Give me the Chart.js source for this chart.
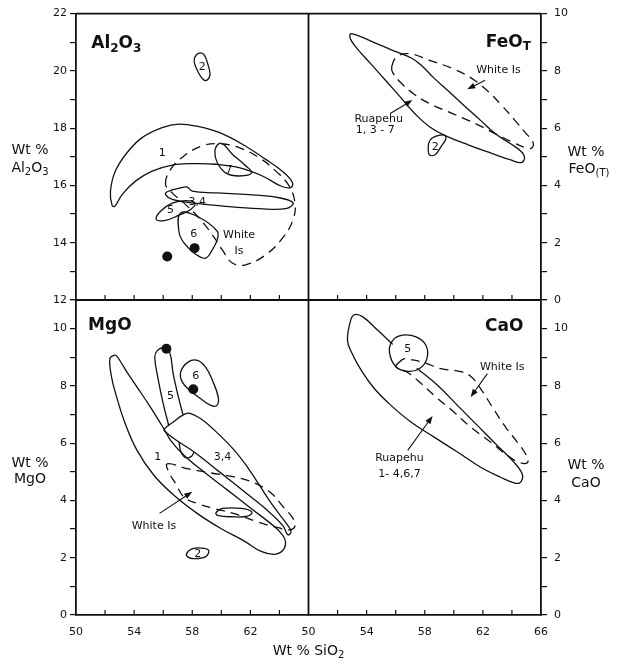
<!DOCTYPE html>
<html>
<head>
<meta charset="utf-8">
<script src="https://cdn.jsdelivr.net/npm/chart.js@4.4.1/dist/chart.umd.min.js"></script>
<style>
  html, body { margin: 0; padding: 0; background: #fff; }
  #wrap { width: 624px; height: 664px; }
</style>
</head>
<body>
<div id="wrap"><canvas id="harker" width="624" height="664"></canvas></div>
<script>
//----------------------------data (SiO2 wt %, oxide wt %)---------------------------

// Al2O3 panel
const alField1 = [[52.48,15.31],[52.37,15.80],[52.71,16.50],[53.52,17.15],[54.55,17.67],[55.93,18.02],[57.08,18.14],[58.46,18.05],[59.84,17.85],[61.45,17.44],[63.06,16.91],[64.32,16.44],[64.90,16.09],[64.78,15.92],[64.09,15.98],[62.83,16.33],[61.22,16.62],[59.61,16.74],[58.00,16.76],[56.62,16.71],[55.24,16.50],[54.09,16.15],[53.17,15.68],[52.67,15.27]];
const alField2 = [[58.18,20.48],[58.46,20.62],[58.80,20.57],[59.03,20.30],[59.22,19.89],[59.03,19.68],[58.74,19.71],[58.41,19.95],[58.14,20.30]];
const alField7 = [[59.84,17.46],[59.56,17.20],[59.72,16.80],[60.30,16.44],[61.22,16.33],[62.09,16.44],[61.56,16.74],[60.76,17.09],[60.18,17.42]];
const alField34 = [[56.28,15.78],[57.26,15.92],[57.66,15.94],[58.00,15.80],[59.61,15.74],[61.91,15.68],[63.98,15.57],[64.94,15.39],[64.44,15.19],[62.60,15.19],[60.30,15.27],[58.00,15.39],[56.62,15.51],[56.16,15.68]];
const alField5 = [[55.52,14.81],[55.82,15.10],[56.62,15.38],[57.54,15.47],[58.18,15.38],[57.89,15.16],[57.08,14.96],[56.16,14.78]];
const alField6 = [[57.20,15.04],[58.46,14.89],[59.72,14.40],[59.72,14.11],[59.38,13.75],[58.92,13.46],[58.23,13.60],[57.43,13.99],[57.08,14.40]];
const alWhiteIs = [[56.16,16.04],[56.51,16.56],[57.43,17.03],[58.69,17.38],[59.84,17.46],[61.22,17.32],[62.60,16.97],[63.75,16.50],[64.67,15.98],[65.08,15.33],[64.90,14.75],[64.21,14.16],[63.06,13.58],[61.68,13.23],[60.76,13.29],[60.07,13.75],[59.38,14.28],[58.46,14.87],[57.54,15.33],[56.62,15.74]];
const alDots = [[56.28,13.52],[58.16,13.81]];

// FeO(T) panel
const feRuapehu = [[52.95,9.30],[54.94,8.90],[56.07,8.66],[57.08,8.45],[57.76,8.20],[58.55,7.79],[59.68,7.27],[60.81,6.74],[61.82,6.28],[62.84,5.81],[63.86,5.47],[64.60,5.20],[64.87,4.97],[64.65,4.80],[63.97,4.88],[62.61,5.12],[61.03,5.41],[59.45,5.73],[58.33,6.05],[57.31,6.51],[56.41,7.03],[55.39,7.62],[54.26,8.26],[53.25,8.84],[52.86,9.15]];
const feWhiteIs = [[55.73,8.14],[56.07,8.49],[56.97,8.60],[58.33,8.37],[59.91,8.08],[61.26,7.73],[62.39,7.27],[63.29,6.80],[64.19,6.28],[64.98,5.81],[65.44,5.52],[65.37,5.31],[64.98,5.31],[64.08,5.50],[62.84,5.81],[61.49,6.16],[59.91,6.51],[58.33,6.86],[57.20,7.21],[56.29,7.62],[55.80,7.94]];
const feField2 = [[58.33,5.55],[58.73,5.71],[59.34,5.76],[59.45,5.62],[59.11,5.35],[58.73,5.08],[58.33,5.06],[58.24,5.29]];

// MgO panel
const mgField1 = [[52.63,9.07],[52.33,8.95],[52.45,8.30],[52.80,7.61],[53.39,6.68],[54.20,5.75],[55.36,4.88],[56.74,4.18],[58.36,3.54],[59.97,3.02],[61.59,2.58],[62.74,2.22],[63.66,2.12],[64.24,2.26],[64.42,2.55],[64.20,2.80],[63.67,3.08],[62.05,3.72],[60.43,4.36],[58.82,4.99],[57.43,5.58],[56.51,6.10],[56.05,6.50],[55.12,7.26],[54.20,7.96],[53.51,8.48],[53.05,8.86],[52.80,9.04]];
const mgField34 = [[56.09,6.50],[56.70,6.74],[57.32,6.97],[57.75,7.05],[58.59,6.85],[59.74,6.35],[60.90,5.75],[61.82,5.15],[62.51,4.62],[63.30,4.00],[63.95,3.55],[64.50,3.18],[64.80,2.92],[64.58,2.80],[64.24,3.12],[63.20,3.64],[61.59,4.30],[59.74,5.05],[58.13,5.69],[57.09,6.04],[56.16,6.39]];
const mgField5 = [[56.39,6.60],[56.00,7.38],[55.63,8.30],[55.42,9.00],[55.59,9.23],[56.05,9.33],[56.44,9.18],[56.69,8.42],[57.02,7.67],[57.36,7.00]];
const mgField5Tail = [[57.09,6.04],[57.22,5.70],[57.55,5.49],[57.94,5.54],[58.13,5.69]];
const mgField6 = [[57.20,8.48],[57.71,8.83],[58.36,8.89],[58.93,8.65],[59.39,8.19],[59.79,7.61],[59.70,7.32],[59.28,7.32],[58.59,7.55],[57.85,7.84],[57.32,8.13]];
const mgField7 = [[59.63,3.57],[60.09,3.72],[61.36,3.72],[62.10,3.60],[61.82,3.45],[60.66,3.43],[59.74,3.48]];
const mgField2 = [[57.62,2.15],[57.98,2.31],[58.80,2.33],[59.14,2.24],[58.90,2.03],[58.10,1.97],[57.68,2.03]];
const mgWhiteIs = [[56.28,5.28],[57.66,5.11],[59.28,4.96],[60.90,4.82],[62.28,4.61],[63.44,4.25],[64.30,3.75],[64.90,3.40],[65.07,3.13],[64.79,2.98],[63.90,3.05],[62.50,3.25],[60.90,3.54],[59.51,3.72],[58.36,3.89],[57.43,4.12],[56.86,4.59],[56.39,4.99]];
const mgDots = [[56.22,9.30],[58.07,7.88]];

// CaO panel (Ruapehu outline stops where field 5 covers it)
const caRuapehu = [[57.45,8.62],[58.88,8.02],[60.25,7.32],[61.62,6.62],[62.99,5.92],[64.13,5.34],[64.70,4.93],[64.63,4.66],[64.25,4.60],[63.22,4.81],[61.85,5.16],[60.25,5.69],[58.65,6.21],[57.05,6.74],[55.68,7.32],[54.54,7.90],[53.63,8.54],[52.95,9.18],[52.68,9.60],[52.90,10.29],[53.17,10.49],[53.74,10.41],[54.77,9.94],[55.80,9.45]];
const caField5 = [[55.57,9.18],[55.80,9.59],[56.48,9.77],[57.40,9.71],[58.08,9.42],[58.15,8.95],[57.63,8.60],[56.83,8.51],[56.03,8.66]];
const caWhiteIs = [[56.14,8.78],[56.60,8.95],[57.05,8.92],[57.97,8.81],[59.11,8.60],[60.37,8.51],[61.16,8.34],[61.85,7.90],[62.65,7.26],[63.56,6.56],[64.36,6.04],[64.93,5.63],[65.09,5.34],[64.59,5.31],[63.68,5.57],[62.53,6.04],[61.16,6.56],[60.00,7.09],[58.77,7.61],[57.76,8.08],[56.85,8.46],[56.03,8.66]];

// field labels: panel, SiO2, oxide, text
const fieldLabels = [
  ['al',58.69,20.17,'2'],['al',55.93,17.15,'1'],['al',60.53,16.56,'7'],['al',58.34,15.45,'3,4'],
  ['al',56.51,15.19,'5'],['al',58.11,14.34,'6'],['al',61.22,14.32,'White'],['al',61.22,13.75,'Is'],
  ['fe',63.07,8.05,'White Is'],['fe',54.83,6.34,'Ruapehu'],['fe',54.60,5.97,'1, 3 - 7'],['fe',58.73,5.37,'2'],
  ['mg',55.63,5.55,'1'],['mg',56.51,7.67,'5'],['mg',58.24,8.39,'6'],['mg',60.09,5.54,'3,4'],
  ['mg',55.36,3.14,'White Is'],['mg',58.38,2.15,'2'],
  ['ca',56.83,9.32,'5'],['ca',63.33,8.69,'White Is'],['ca',56.26,5.51,'Ruapehu'],['ca',56.26,4.97,'1- 4,6,7']
];
// arrows: panel, from SiO2, from oxide, to SiO2, to oxide
const arrows = [
  ['fe',62.16,7.67,60.92,7.36],['fe',55.62,6.51,57.15,6.98],
  ['mg',55.75,3.55,58.0,4.3],
  ['ca',62.31,8.43,61.16,7.61],['ca',56.83,5.75,58.54,6.95]
];

const siTicksLabelled = [50, 54, 58, 62, 66];


//----------------------------chart-----------------------------------------------

const PANELS = {al: ['xL','yAl'], fe: ['xR','yFe'], mg: ['xL','yMg'], ca: ['xR','yCa']};
const INK = '#111';
const FONT = 'DejaVu Sans';

function outline(pts, panel, opts) {
  return Object.assign({
    type: 'line',
    data: pts.map(p => ({x: p[0], y: p[1]})),
    xAxisID: PANELS[panel][0], yAxisID: PANELS[panel][1],
    borderColor: INK, borderWidth: 1.3, pointRadius: 0, tension: 0.4, fill: false,
    loop: true
  }, opts || {});
}
const dashed = {borderDash: [9, 6]};
const open = {loop: false};

function dots(pts, panel) {
  return {
    type: 'line', showLine: false,
    data: pts.map(p => ({x: p[0], y: p[1]})),
    xAxisID: PANELS[panel][0], yAxisID: PANELS[panel][1],
    pointRadius: 5, pointBackgroundColor: INK, pointBorderWidth: 0
  };
}

const datasets = [
  dots(alDots, 'al'), dots(mgDots, 'mg'),
  outline(caWhiteIs, 'ca', dashed), outline(caField5, 'ca'), outline(caRuapehu, 'ca', open),
  outline(alWhiteIs, 'al', dashed), outline(alField1, 'al'), outline(alField2, 'al'), outline(alField7, 'al'),
  outline(alField34, 'al'), outline(alField5, 'al'), outline(alField6, 'al'),
  outline(feWhiteIs, 'fe', dashed), outline(feRuapehu, 'fe'), outline(feField2, 'fe'),
  outline(mgWhiteIs, 'mg', dashed), outline(mgField1, 'mg'), outline(mgField34, 'mg'),
  outline(mgField5, 'mg', open), outline(mgField5Tail, 'mg', open), outline(mgField6, 'mg'),
  outline(mgField7, 'mg'), outline(mgField2, 'mg')
];

const tickFont = {family: FONT, size: 11};

function yAxis(pos, min, max, stackWeight, weight, labelMax) {
  return {
    type: 'linear', position: pos, stack: pos, stackWeight: stackWeight, weight: weight,
    min: min, max: max,
    afterFit: s => { s.width = pos === 'left' ? 76 : 83; },
    ticks: {
      stepSize: 1, autoSkip: false, padding: pos === 'left' ? 3 : 7, color: INK, font: tickFont,
      callback: v => (v % 2 === 0 && v <= labelMax) ? v : ''
    },
    grid: {drawOnChartArea: false, drawTicks: true, tickLength: 6, color: INK, lineWidth: 1.2},
    border: {color: INK, width: 1.8}
  };
}

function xAxis(weight, lastLabel) {
  return {
    type: 'linear', position: 'bottom', stack: 'bottom', stackWeight: 1, weight: weight,
    min: 50, max: 66,
    afterFit: s => { s.height = 49; },
    ticks: {
      stepSize: 2, autoSkip: false, maxRotation: 0, minRotation: 0, padding: 11, color: INK, font: tickFont,
      callback: v => (siTicksLabelled.includes(v) && (lastLabel || v < 66)) ? v : ''
    },
    grid: {display: false, drawTicks: false},
    border: {color: INK, width: 1.8}
  };
}

// smooth closed outlines: let the line element wrap round like a radar line
const closeLoops = {
  id: 'closeLoops',
  afterDatasetUpdate(chart, args) {
    const ds = chart.data.datasets[args.index];
    const line = args.meta.dataset;
    if (ds.loop && line) {
      line._loop = true;
      line._fullLoop = true;
      delete line._segments;
      line._path = undefined;
      line._pointsUpdated = false;
    }
  }
};

function drawParts(ctx, parts, x, y, size, weight, align) {
  const big = weight + ' ' + size + 'px "' + FONT + '"';
  const small = weight + ' ' + Math.round(size * 0.7) + 'px "' + FONT + '"';
  let w = 0;
  parts.forEach(p => { ctx.font = p[1] ? small : big; w += ctx.measureText(p[0]).width; });
  let cx = align === 'left' ? x : align === 'right' ? x - w : x - w / 2;
  const base = y + size * 0.36;
  ctx.textAlign = 'left';
  ctx.textBaseline = 'alphabetic';
  parts.forEach(p => {
    ctx.font = p[1] ? small : big;
    ctx.fillText(p[0], cx, p[1] ? base + size * 0.22 : base);
    cx += ctx.measureText(p[0]).width;
  });
}

const decorations = {
  id: 'decorations',
  afterDraw(chart) {
    const ctx = chart.ctx;
    const area = chart.chartArea;
    const s = chart.scales;
    const midY = s.yAl.bottom;
    const midX = s.xL.right;
    ctx.save();
    ctx.strokeStyle = INK;
    ctx.fillStyle = INK;

    // frame: top edge and the two dividers
    ctx.lineWidth = 1.8;
    ctx.beginPath();
    ctx.moveTo(area.left, area.top); ctx.lineTo(area.right, area.top);
    ctx.moveTo(area.left, midY); ctx.lineTo(area.right, midY);
    ctx.moveTo(midX, area.top); ctx.lineTo(midX, area.bottom);
    ctx.stroke();

    // SiO2 ticks point inwards, on the bottom axis and on the middle divider
    ctx.lineWidth = 1.2;
    ctx.beginPath();
    ['xL', 'xR'].forEach(id => {
      s[id].ticks.forEach(t => {
        if (t.value <= 50 || t.value >= 66) return;
        const px = s[id].getPixelForValue(t.value);
        ctx.moveTo(px, area.bottom); ctx.lineTo(px, area.bottom - 5);
        ctx.moveTo(px, midY); ctx.lineTo(px, midY - 5);
      });
    });
    ctx.stroke();

    const P = (panel, x, y) => [s[PANELS[panel][0]].getPixelForValue(x), s[PANELS[panel][1]].getPixelForValue(y)];

    // field labels
    fieldLabels.forEach(l => {
      const [px, py] = P(l[0], l[1], l[2]);
      drawParts(ctx, [[l[3]]], px, py, 11, 'normal', 'center');
    });

    // arrows
    ctx.lineWidth = 1.1;
    arrows.forEach(a => {
      const [x1, y1] = P(a[0], a[1], a[2]);
      const [x2, y2] = P(a[0], a[3], a[4]);
      const ang = Math.atan2(y2 - y1, x2 - x1);
      ctx.beginPath(); ctx.moveTo(x1, y1); ctx.lineTo(x2 - 4 * Math.cos(ang), y2 - 4 * Math.sin(ang)); ctx.stroke();
      ctx.beginPath();
      ctx.moveTo(x2, y2);
      ctx.lineTo(x2 - 8 * Math.cos(ang) + 3 * Math.sin(ang), y2 - 8 * Math.sin(ang) - 3 * Math.cos(ang));
      ctx.lineTo(x2 - 8 * Math.cos(ang) - 3 * Math.sin(ang), y2 - 8 * Math.sin(ang) + 3 * Math.cos(ang));
      ctx.closePath(); ctx.fill();
    });

    // panel titles
    let p = P('al', 51.05, 21.0);
    drawParts(ctx, [['Al'], ['2', 1], ['O'], ['3', 1]], p[0], p[1], 17, 'bold', 'left');
    p = P('fe', 65.3, 9.06);
    drawParts(ctx, [['FeO'], ['T', 1]], p[0], p[1], 17, 'bold', 'right');
    p = P('mg', 50.83, 10.17);
    drawParts(ctx, [['MgO']], p[0], p[1], 17, 'bold', 'left');
    p = P('ca', 64.79, 10.14);
    drawParts(ctx, [['CaO']], p[0], p[1], 17, 'bold', 'right');

    // axis titles
    const lx = s.yAl.left + 30;
    const rx = area.right + 45;
    drawParts(ctx, [['Wt %']], lx, s.yAl.getPixelForValue(17.28), 14, 'normal', 'center');
    drawParts(ctx, [['Al'], ['2', 1], ['O'], ['3', 1]], lx, s.yAl.getPixelForValue(16.65), 14, 'normal', 'center');
    drawParts(ctx, [['Wt %']], lx, s.yMg.getPixelForValue(5.33), 14, 'normal', 'center');
    drawParts(ctx, [['MgO']], lx, s.yMg.getPixelForValue(4.77), 14, 'normal', 'center');
    drawParts(ctx, [['Wt %']], rx, s.yFe.getPixelForValue(5.21), 14, 'normal', 'center');
    drawParts(ctx, [['FeO'], ['(T)', 1]], rx + 3, s.yFe.getPixelForValue(4.62), 14, 'normal', 'center');
    drawParts(ctx, [['Wt %']], rx, s.yCa.getPixelForValue(5.26), 14, 'normal', 'center');
    drawParts(ctx, [['CaO']], rx, s.yCa.getPixelForValue(4.66), 14, 'normal', 'center');
    drawParts(ctx, [['Wt % SiO'], ['2', 1]], midX, area.bottom + 35, 14, 'normal', 'center');

    ctx.restore();
  }
};

let ctx = document.getElementById('harker').getContext('2d');
let harker = new Chart(ctx, {
  type: 'line',
  data: {datasets: datasets},
  options: {
    responsive: false,
    animation: false,
    events: [],
    layout: {padding: {top: 13, left: 0, right: 0, bottom: 0}},
    plugins: {legend: {display: false}, tooltip: {enabled: false}},
    scales: {
      xL: xAxis(1, false),
      xR: xAxis(2, true),
      yAl: yAxis('left', 12, 22, 10, 2, 22),
      yMg: yAxis('left', 0, 11, 11, 1, 10),
      yFe: yAxis('right', 0, 10, 10, 1, 10),
      yCa: yAxis('right', 0, 11, 11, 2, 10)
    }
  },
  plugins: [closeLoops, decorations]
});
</script>
</body>
</html>
